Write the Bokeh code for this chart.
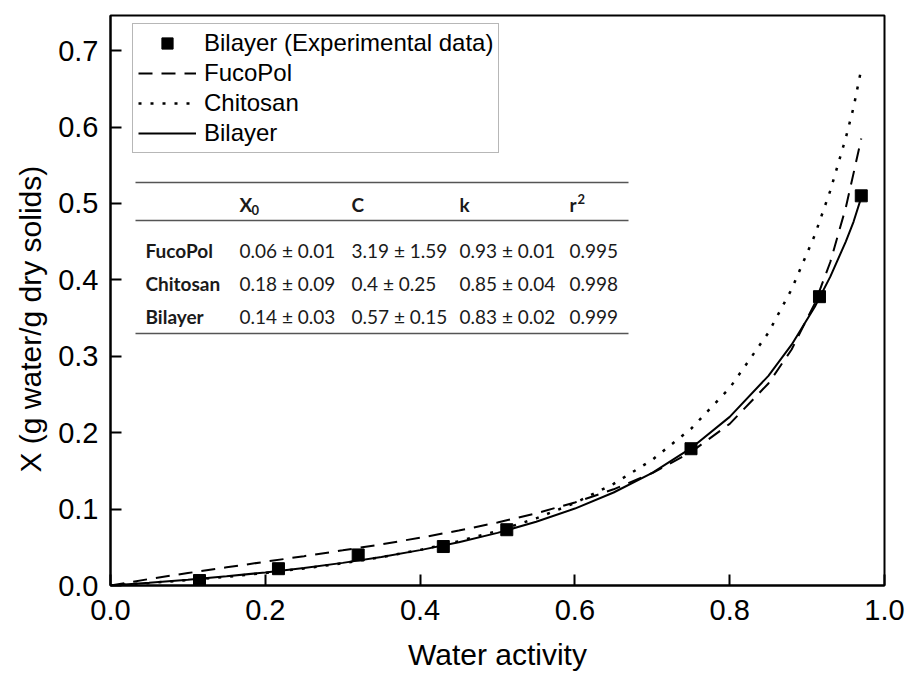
import math
from bokeh.plotting import figure
from bokeh.models import (Range1d, FixedTicker, PrintfTickFormatter, Label,
                          Legend, LegendItem, Title)
from bokeh.embed import file_html
from bokeh.resources import INLINE

# ---------------- data ----------------
aw_exp = [0.115, 0.217, 0.320, 0.430, 0.512, 0.750, 0.916, 0.970]
x_exp = [0.0065, 0.022, 0.040, 0.051, 0.073, 0.179, 0.378, 0.510]

aw_fit = [0.0, 0.05, 0.10, 0.15, 0.20, 0.25, 0.30, 0.35, 0.40, 0.45, 0.50,
          0.55, 0.60, 0.65, 0.70, 0.75, 0.80, 0.85, 0.88, 0.91, 0.93, 0.95,
          0.96, 0.97]
fucopol_fit = [0.0, 0.0085, 0.0163, 0.0238, 0.0311, 0.0384, 0.0460, 0.0539,
               0.0625, 0.0719, 0.0824, 0.0945, 0.1087, 0.1259, 0.1472, 0.1746,
               0.2116, 0.2644, 0.3089, 0.3693, 0.4234, 0.4946, 0.5394, 0.5850]
chitosan_fit = [0.0, 0.0033, 0.0071, 0.0114, 0.0164, 0.0223, 0.0291, 0.0371,
                0.0466, 0.0579, 0.0714, 0.0879, 0.1080, 0.1330, 0.1645, 0.2051,
                0.2585, 0.3309, 0.3877, 0.4588, 0.5168, 0.5859, 0.6256, 0.6760]
bilayer_fit = [0.0, 0.0035, 0.0075, 0.0120, 0.0171, 0.0229, 0.0296, 0.0373,
               0.0463, 0.0567, 0.0689, 0.0834, 0.1007, 0.1217, 0.1475, 0.1797,
               0.2207, 0.2744, 0.3152, 0.3648, 0.4042, 0.4501, 0.4760, 0.5080]

x_ticks = [0.0, 0.2, 0.4, 0.6, 0.8, 1.0]
y_ticks = [0.0, 0.1, 0.2, 0.3, 0.4, 0.5, 0.6, 0.7]

x_title = "Water activity"
y_title = "X (g water/g dry solids)"
legend_labels = ["Bilayer (Experimental data)", "FucoPol", "Chitosan", "Bilayer"]

table_rows = ["FucoPol", "Chitosan", "Bilayer"]
table_x0 = ["0.06 \u00b1 0.01", "0.18 \u00b1 0.09", "0.14 \u00b1 0.03"]
table_c = ["3.19 \u00b1 1.59", "0.4 \u00b1 0.25", "0.57 \u00b1 0.15"]
table_k = ["0.93 \u00b1 0.01", "0.85 \u00b1 0.04", "0.83 \u00b1 0.02"]
table_r2 = ["0.995", "0.998", "0.999"]

# ---------------- layout ----------------
W, H = 905, 674
L, R, T, B = 110, 21, 15, 89
XMAX, YMAX = 1.0, 0.746
FW, FH = W - L - R, H - T - B


def px_x(px):
    return (px - L) / FW * XMAX


def px_y(py):
    return (H - B - py) / FH * YMAX


p = figure(width=W, height=H, output_backend="svg", toolbar_location=None,
           x_range=Range1d(0, XMAX), y_range=Range1d(0, YMAX),
           min_border_left=L, min_border_right=R, min_border_top=T,
           min_border_bottom=B)
p.xgrid.visible = False
p.ygrid.visible = False
p.outline_line_color = "black"
p.outline_line_width = 2
p.outline_line_alpha = 1.0
p.background_fill_color = "white"
p.border_fill_color = "white"

for ax, ticks in ((p.xaxis[0], x_ticks), (p.yaxis[0], y_ticks)):
    ax.ticker = FixedTicker(ticks=ticks)
    ax.formatter = PrintfTickFormatter(format="%.1f")
    ax.major_tick_in = 11
    ax.major_tick_out = 0
    ax.major_tick_line_width = 2
    ax.minor_tick_line_color = None
    ax.axis_line_width = 2
    ax.major_label_text_font = "Liberation Sans"
    ax.major_label_text_font_size = "29px"
    ax.major_label_text_color = "black"
p.xaxis[0].major_label_standoff = 14
p.yaxis[0].major_label_standoff = 12

p.xaxis[0].axis_label = x_title
p.xaxis[0].axis_label_text_font = "Liberation Sans"
p.xaxis[0].axis_label_text_font_size = "30px"
p.xaxis[0].axis_label_text_font_style = "normal"
p.xaxis[0].axis_label_text_color = "black"
p.xaxis[0].axis_label_standoff = 15

ytitle = Title(text=y_title, align="left", offset=113, standoff=18,
               text_font="Liberation Sans", text_font_size="30px",
               text_font_style="normal", text_color="black")
p.add_layout(ytitle, "left")

# ---------------- curves and points ----------------
r_f = p.line(aw_fit, fucopol_fit, line_color="black", line_width=2,
             line_dash="14 9")
r_c = p.line(aw_fit, chitosan_fit, line_color="black", line_width=2.5,
             line_dash="3 9")
r_b = p.line(aw_fit, bilayer_fit, line_color="black", line_width=2)
r_e = p.scatter(aw_exp, x_exp, marker="square", size=12, color="black")

legend = Legend(items=[
    LegendItem(label=legend_labels[0], renderers=[r_e]),
    LegendItem(label=legend_labels[1], renderers=[r_f]),
    LegendItem(label=legend_labels[2], renderers=[r_c]),
    LegendItem(label=legend_labels[3], renderers=[r_b]),
], location=(22, 432))
legend.label_text_font = "Liberation Sans"
legend.label_text_font_size = "24px"
legend.label_text_color = "black"
legend.glyph_width = 58
legend.glyph_height = 28
legend.label_height = 28
legend.label_standoff = 8
legend.spacing = 2
legend.padding = 5
legend.margin = 0
legend.border_line_color = "#707070"
legend.border_line_width = 1.5
legend.background_fill_alpha = 1.0
p.add_layout(legend)

# ---------------- parameter table ----------------
tx0, tx1 = px_x(135), px_x(628)
line_ys = [px_y(182), px_y(220), px_y(333)]
p.segment(x0=[tx0] * 3, y0=line_ys, x1=[tx1] * 3, y1=line_ys,
          line_color="#555555", line_width=1.6)

col_x = [px_x(145), px_x(239), px_x(351), px_x(459), px_x(569)]
row_y = [px_y(250), px_y(283), px_y(316)]
head_y = px_y(204)
TF = "Lato"
TS = "19px"


def tlabel(x, y, text, bold=False, size=TS):
    p.add_layout(Label(x=x, y=y, text=text, text_align="left",
                       text_baseline="middle", text_font=TF,
                       text_font_size=size, text_color="#1a1a1a",
                       text_font_style="bold" if bold else "normal"))


tlabel(col_x[1], head_y, "X", bold=True)
tlabel(col_x[1] + px_x(L + 12), px_y(209), "0", bold=True, size="13px")
tlabel(col_x[2], head_y, "C", bold=True)
tlabel(col_x[3], head_y, "k", bold=True)
tlabel(col_x[4], head_y, "r", bold=True)
tlabel(col_x[4] + px_x(L + 8), px_y(198), "2", bold=True, size="13px")

for i in range(3):
    tlabel(col_x[0], row_y[i], table_rows[i], bold=True)
    tlabel(col_x[1], row_y[i], table_x0[i])
    tlabel(col_x[2], row_y[i], table_c[i])
    tlabel(col_x[3], row_y[i], table_k[i])
    tlabel(col_x[4], row_y[i], table_r2[i])

open("out.html", "w").write(file_html(p, INLINE))
